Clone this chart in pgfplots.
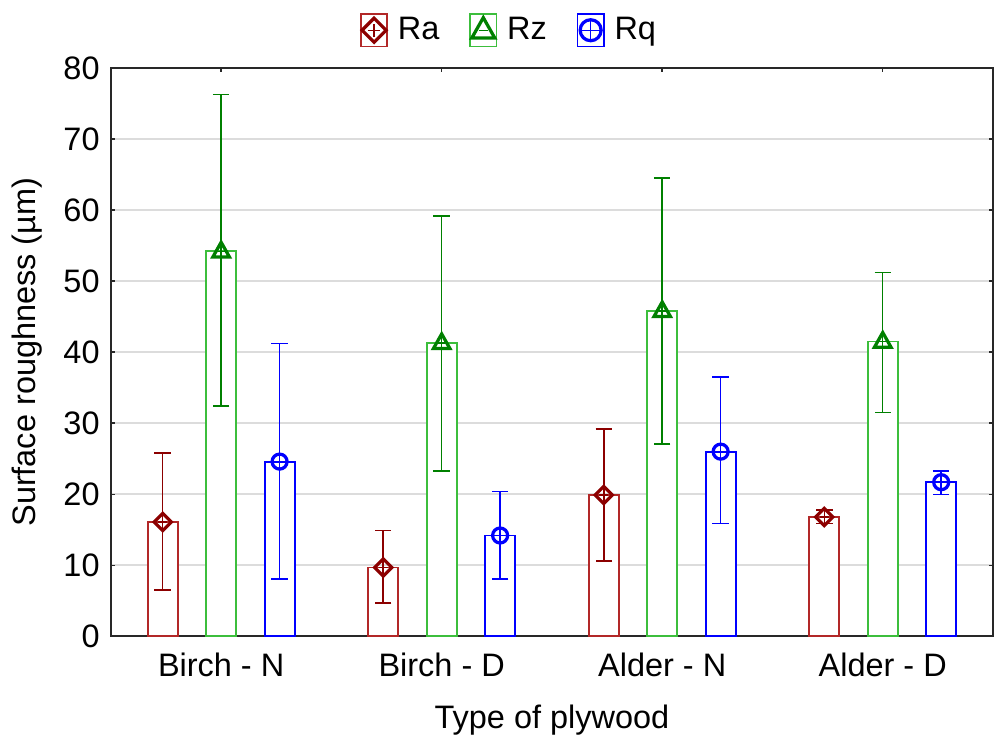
\documentclass[border=0pt]{standalone}
\usepackage{fontspec}
\setmainfont{Liberation Sans}
\usepackage{pgfplots}
\pgfplotsset{compat=1.18}
\usepackage{pgfplotstable}

\definecolor{raBar}{RGB}{178,40,40}
\definecolor{raMark}{RGB}{140,0,0}
\definecolor{rzBar}{RGB}{60,190,60}
\definecolor{rzMark}{RGB}{0,128,0}
\definecolor{rqBlue}{RGB}{0,0,255}
\definecolor{gridgray}{RGB}{220,220,220}
\definecolor{axisgray}{RGB}{40,40,40}

% marks with a small cross inside, as in the reference
\pgfdeclareplotmark{diamondplus}{%
  \pgfscope
  \pgfsetlinewidth{1.3pt}%
  \pgfpathmoveto{\pgfqpoint{0pt}{1.15\pgfplotmarksize}}%
  \pgfpathlineto{\pgfqpoint{1.15\pgfplotmarksize}{0pt}}%
  \pgfpathlineto{\pgfqpoint{0pt}{-1.15\pgfplotmarksize}}%
  \pgfpathlineto{\pgfqpoint{-1.15\pgfplotmarksize}{0pt}}%
  \pgfpathclose
  \pgfusepathqstroke
  \pgfsetlinewidth{0.5pt}%
  \pgfpathmoveto{\pgfqpoint{-0.6\pgfplotmarksize}{0pt}}%
  \pgfpathlineto{\pgfqpoint{0.6\pgfplotmarksize}{0pt}}%
  \pgfpathmoveto{\pgfqpoint{0pt}{-0.6\pgfplotmarksize}}%
  \pgfpathlineto{\pgfqpoint{0pt}{0.6\pgfplotmarksize}}%
  \pgfusepathqstroke
  \endpgfscope
}
\pgfdeclareplotmark{triplus}{%
  \pgfscope
  \pgfsetlinewidth{1.3pt}%
  \pgfpathmoveto{\pgfqpoint{0pt}{1.2\pgfplotmarksize}}%
  \pgfpathlineto{\pgfqpoint{1.1\pgfplotmarksize}{-0.75\pgfplotmarksize}}%
  \pgfpathlineto{\pgfqpoint{-1.1\pgfplotmarksize}{-0.75\pgfplotmarksize}}%
  \pgfpathclose
  \pgfusepathqstroke
  \pgfsetlinewidth{0.5pt}%
  \pgfpathmoveto{\pgfqpoint{-0.45\pgfplotmarksize}{0pt}}%
  \pgfpathlineto{\pgfqpoint{0.45\pgfplotmarksize}{0pt}}%
  \pgfusepathqstroke
  \endpgfscope
}
\pgfdeclareplotmark{circplus}{%
  \pgfscope
  \pgfsetlinewidth{1.3pt}%
  \pgfpathcircle{\pgfpointorigin}{\pgfplotmarksize}%
  \pgfusepathqstroke
  \pgfsetlinewidth{0.5pt}%
  \pgfpathmoveto{\pgfqpoint{-\pgfplotmarksize}{0pt}}%
  \pgfpathlineto{\pgfqpoint{\pgfplotmarksize}{0pt}}%
  \pgfpathmoveto{\pgfqpoint{0pt}{-\pgfplotmarksize}}%
  \pgfpathlineto{\pgfqpoint{0pt}{\pgfplotmarksize}}%
  \pgfusepathqstroke
  \endpgfscope
}

% x = group position + offset, y = mean, ep / em = error up / down
\pgfplotstableread{
x      y    ep   em
-0.265 16.1 9.7  9.6
0.735  9.7  5.2  5.0
1.735  19.9 9.3  9.3
2.735  16.8 1.0  0.9
}\ra
\pgfplotstableread{
x      y    ep   em
0      54.2 22.1 21.8
1      41.3 17.9 18.0
2      45.8 18.7 18.7
3      41.5 9.7  10.0
}\rz
\pgfplotstableread{
x      y    ep   em
0.265  24.6 16.6 16.5
1.265  14.2 6.2  6.1
2.265  26.0 10.5 10.1
3.265  21.7 1.6  1.7
}\rq

\pgfplotsset{
  sbar/.style={ybar, bar width=12pt, bar shift=0pt, fill=white,
               draw=#1, line width=0.75pt, forget plot},
  smark/.style n args={2}{only marks, color=#1, mark=#2, mark size=3pt,
               error bars/y dir=both, error bars/y explicit,
               error bars/error bar style={color=#1, line width=0.6pt},
               error bars/error mark options={color=#1, line width=0.6pt,
                                              mark size=3.3pt, rotate=90}},
  legimg/.style={legend image code/.code={
    \draw[#1, line width=0.6pt] (0pt,-6.5pt) rectangle (10.5pt,6.5pt);
    \draw[##1, mark size=4.2pt] plot coordinates {(5.25pt,0pt)};}},
}

\begin{document}
\begin{tikzpicture}[font=\fontsize{13}{15}\selectfont]
\useasboundingbox (-44.4pt,-40.4pt) rectangle (354pt,254.8pt);
\begin{axis}[
  at={(0pt,0pt)}, anchor=south west,
  scale only axis,
  width=353.2pt, height=227.6pt,
  xmin=-0.5, xmax=3.5,
  ymin=0, ymax=80,
  xtick={0,1,2,3},
  xticklabels={Birch - N, Birch - D, Alder - N, Alder - D},
  ytick={0,10,...,80},
  xtick pos=both, ytick pos=both,
  tick align=inside,
  major tick length=1.6pt,
  tick style={axisgray, line width=0.6pt},
  axis line style={axisgray, line width=0.8pt},
  ymajorgrids,
  grid style={gridgray, line width=0.7pt},
  xlabel={Type of plywood},
  ylabel={Surface roughness (µm)},
  xlabel style={yshift=-4.5pt},
  ylabel style={yshift=1.5pt},
  /pgf/number format/assume math mode=true,
  ticklabel style={font=\fontsize{13}{15}\selectfont},
  xticklabel style={yshift=-3pt},
  yticklabel style={xshift=-1pt},
  legend style={at={(axis description cs:0.456,1.025)}, anchor=south,
                draw=none, fill=none, legend columns=3,
                /tikz/every even column/.append style={column sep=8pt},
                nodes={inner xsep=4pt}},
]
\addplot[sbar=raBar] table[x=x, y=y] {\ra};
\addplot[sbar=rzBar] table[x=x, y=y] {\rz};
\addplot[sbar=rqBlue] table[x=x, y=y] {\rq};

\addplot[smark={raMark}{diamondplus}, legimg=raBar]
  table[x=x, y=y, y error plus=ep, y error minus=em] {\ra};
\addlegendentry{Ra}
\addplot[smark={rzMark}{triplus}, legimg=rzBar]
  table[x=x, y=y, y error plus=ep, y error minus=em] {\rz};
\addlegendentry{Rz}
\addplot[smark={rqBlue}{circplus}, legimg=rqBlue]
  table[x=x, y=y, y error plus=ep, y error minus=em] {\rq};
\addlegendentry{Rq}
\end{axis}
\end{tikzpicture}
\end{document}
